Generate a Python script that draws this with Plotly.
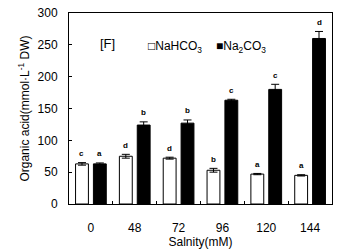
import plotly.graph_objects as go

categories = ["0", "48", "72", "96", "120", "144"]
nahco3 = [63, 75, 72, 53, 47, 45]
nahco3_err = [2, 3, 1.5, 3, 1, 1]
na2co3 = [63, 124, 127, 163, 180, 260]
na2co3_err = [1.5, 5, 5, 1.5, 8, 11]
letters_nahco3 = ["c", "d", "d", "b", "a", "a"]
letters_na2co3 = ["a", "b", "b", "c", "c", "d"]
y_ticks = [0, 50, 100, 150, 200, 250, 300]

FONT = "Liberation Sans, Arial, sans-serif"

fig = go.Figure()
fig.add_trace(go.Bar(
    x=categories, y=nahco3, name="NaHCO<sub>3</sub>", showlegend=False,
    marker=dict(color="white", line=dict(color="black", width=1)),
    error_y=dict(type="data", array=nahco3_err, color="black", thickness=1, width=4),
))
fig.add_trace(go.Bar(
    x=categories, y=na2co3, name="Na<sub>2</sub>CO<sub>3</sub>", showlegend=False,
    marker=dict(color="black", line=dict(color="black", width=1)),
    error_y=dict(type="data", array=na2co3_err, color="black", thickness=1, width=4),
))

annotations = []
for i, c in enumerate(categories):
    annotations.append(dict(x=i, y=nahco3[i] + nahco3_err[i], text="<b>" + letters_nahco3[i] + "</b>",
                            xref="x", yref="y", xshift=-9, yshift=9, showarrow=False,
                            font=dict(family=FONT, size=8, color="black")))
    annotations.append(dict(x=i, y=na2co3[i] + na2co3_err[i], text="<b>" + letters_na2co3[i] + "</b>",
                            xref="x", yref="y", xshift=9, yshift=9, showarrow=False,
                            font=dict(family=FONT, size=8, color="black")))
annotations.append(dict(x=(98 - 69) / 263, y=1 - (34 - 13) / 191, xref="paper", yref="paper",
                        text="[F]", showarrow=False,
                        font=dict(family=FONT, size=13, color="black")))
# legend drawn as text entries
annotations.append(dict(x=(146 - 69) / 263, y=1 - (37 - 13) / 191, xref="paper", yref="paper",
                        xanchor="left", text="□NaHCO<sub>3</sub>", showarrow=False,
                        font=dict(family=FONT, size=12, color="black")))
annotations.append(dict(x=(214 - 69) / 263, y=1 - (37 - 13) / 191, xref="paper", yref="paper",
                        xanchor="left", text="■Na<sub>2</sub>CO<sub>3</sub>", showarrow=False,
                        font=dict(family=FONT, size=12, color="black")))

# page body has an 8px margin, so the figure is shrunk by 8px and margins adjusted
fig.update_layout(
    width=337, height=241,
    margin=dict(l=61, r=13, t=5, b=45),
    paper_bgcolor="white", plot_bgcolor="white",
    barmode="group", bargap=0.185, bargroupgap=0.28,
    font=dict(family=FONT, size=12, color="black"),
    showlegend=False,
    annotations=annotations,
)
fig.update_xaxes(
    type="category", range=[-0.5, 5.5], showline=True, linecolor="black", linewidth=1, mirror=True,
    ticks="inside", tickson="boundaries", ticklen=3, tickcolor="black",
    showgrid=False, tickfont=dict(size=12), automargin=False, ticklabelstandoff=13,
    title=dict(text="Salnity(mM)", font=dict(size=12), standoff=4),
)
fig.update_yaxes(
    range=[0, 300], tickvals=y_ticks, showline=True, linecolor="black", linewidth=1, mirror=True,
    ticks="inside", ticklen=3, tickcolor="black", showgrid=False, zeroline=False,
    tickfont=dict(size=12), automargin=False, ticklabelstandoff=8, ticklabeloverflow="allow",
    title=dict(text="Organic acid(mmol·L<sup>-1</sup> DW)", font=dict(size=12), standoff=5),
)

fig.write_html("out.html")
